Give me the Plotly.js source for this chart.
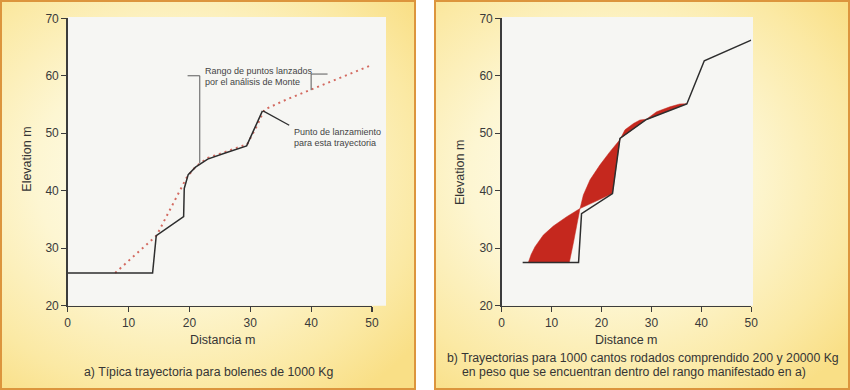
<!DOCTYPE html>
<html>
<head>
<meta charset="utf-8">
<script src="https://cdn.plot.ly/plotly-3.0.1.min.js"></script>
<style>
  html, body { margin: 0; padding: 0; background: #ffffff; }
  #wrap { position: relative; width: 850px; height: 390px; overflow: hidden; }
  .panel { position: absolute; top: 0; height: 386px; width: 412px;
           border: 2px solid #dc953d;
           background: radial-gradient(ellipse 75% 70% at 42% 45%, #fffef6 0%, #fdf6d2 45%, #fbe9a4 80%, #f9df86 100%); }
  #pa { left: 0; }
  #pb { left: 434px; }
  #chart { position: absolute; left: 0; top: 0; width: 850px; height: 390px; }
</style>
</head>
<body>
<div id="wrap">
  <div class="panel" id="pa"></div>
  <div class="panel" id="pb"></div>
  <div id="chart"></div>
</div>
<script>
// ---- Panel a) data ----
const xTicks = [0, 10, 20, 30, 40, 50];
const yTicks = [20, 30, 40, 50, 60, 70];
const leftTrajX = [0, 13.95, 14.55, 19.05, 19.15, 19.8, 21.0, 23.0, 26.0, 29.4, 32.0];
const leftTrajY = [25.7, 25.7, 32.2, 35.5, 40.4, 42.8, 44.1, 45.5, 46.6, 47.8, 53.9];
const leftRangeX = [7.8, 11.0, 14.6, 17.0, 19.5, 21.0, 23.0, 26.0, 29.5, 31.2, 32.3, 36.0, 40.0, 45.0, 50.0];
const leftRangeY = [25.7, 28.8, 32.2, 37.1, 42.2, 44.2, 45.7, 46.8, 48.1, 51.5, 54.1, 55.9, 57.6, 59.8, 61.9];
const leaderX = [32.1, 36.4];
const leaderY = [53.9, 51.4];
const bracketLeftX = [19.7, 21.7, 21.7];
const bracketLeftY = [60.0, 60.0, 44.8];
const bracketRightX = [42.7, 40.0, 40.0];
const bracketRightY = [60.3, 60.3, 57.5];

// ---- Panel b) data ----
const rightTrajX = [4.2, 15.4, 16.0, 22.2, 23.7, 29.0, 37.1, 40.6, 50.0];
const rightTrajY = [27.5, 27.5, 36.0, 39.5, 49.1, 52.4, 55.1, 62.6, 66.2];
const lowLobeX = [5.33, 13.55, 14.35, 15.03, 15.69, 13.03, 10.35, 8.34, 6.68, 5.9, 5.33];
const lowLobeY = [27.5, 27.5, 30.85, 33.74, 36.9, 35.48, 33.86, 32.29, 30.26, 28.9, 27.5];
const upLobeX = [15.7, 16.36, 17.7, 19.7, 21.7, 23.7, 24.7, 26.4, 27.7, 29.0, 31.05, 33.7, 35.7, 37.1, 29.0, 23.7, 22.2, 15.7];
const upLobeY = [36.9, 39.25, 41.9, 44.5, 46.8, 48.9, 50.6, 51.7, 52.3, 52.45, 53.75, 54.6, 55.1, 55.15, 52.4, 49.1, 39.5, 36.9];

// ---- Texts ----
const captionA = 'a) Típica trayectoria para bolenes de 1000 Kg';
const captionB1 = 'b) Trayectorias para 1000 cantos rodados comprendido 200 y 20000 Kg';
const captionB2 = 'en peso que se encuentran dentro del rango manifestado en a)';

const W = 850, H = 390;
const px = v => v / W;
const py = v => (H - v) / H;

const red = '#c5281e';
const ink = '#2e2e2e';
const grey = '#5a5a5a';
const sans = 'Liberation Sans, Arial, sans-serif';

const traces = [
  {x: lowLobeX, y: lowLobeY, xaxis: 'x2', yaxis: 'y2', mode: 'lines', fill: 'toself',
   fillcolor: red, line: {color: red, width: 0.5}, hoverinfo: 'skip'},
  {x: upLobeX, y: upLobeY, xaxis: 'x2', yaxis: 'y2', mode: 'lines', fill: 'toself',
   fillcolor: red, line: {color: red, width: 0.5}, hoverinfo: 'skip'},
  {x: rightTrajX, y: rightTrajY, xaxis: 'x2', yaxis: 'y2', mode: 'lines',
   line: {color: ink, width: 1.5}},
  {x: leftRangeX, y: leftRangeY, mode: 'lines', line: {color: '#d36a60', width: 2, dash: '2px,4px'}},
  {x: leftTrajX, y: leftTrajY, mode: 'lines', line: {color: ink, width: 1.5}},
  {x: leaderX, y: leaderY, mode: 'lines', line: {color: ink, width: 1.3}},
  {x: bracketLeftX, y: bracketLeftY, mode: 'lines', line: {color: grey, width: 1}},
  {x: bracketRightX, y: bracketRightY, mode: 'lines', line: {color: grey, width: 1}}
];

const axisCommon = {
  showgrid: false, zeroline: false, showline: true, linecolor: '#3c3c3c', linewidth: 1.5,
  ticks: 'outside', ticklen: 5, tickwidth: 1.2, tickcolor: '#3c3c3c',
  tickfont: {family: sans, size: 12, color: '#3a3a3a'},
  fixedrange: true
};
const xDomA = [px(67.7), px(372)];
const xDomB = [px(501.7), px(751.2)];
const yDom = [py(305.7), py(18.3)];

function label(text, x, y, size, extra) {
  return Object.assign({text: text, xref: 'paper', yref: 'paper', x: px(x), y: py(y),
    xanchor: 'center', yanchor: 'middle', showarrow: false,
    font: {family: sans, size: size, color: '#353535'}}, extra || {});
}
function note(text, x, y) {
  return {text: text, xref: 'x', yref: 'y', x: x, y: y, xanchor: 'left', yanchor: 'middle',
    showarrow: false, font: {family: sans, size: 9, color: '#444444'}};
}

const layout = {
  width: W, height: H,
  margin: {l: 0, r: 0, t: 0, b: 0},
  paper_bgcolor: 'rgba(0,0,0,0)',
  plot_bgcolor: 'rgba(0,0,0,0)',
  showlegend: false,
  xaxis: Object.assign({}, axisCommon, {domain: xDomA, range: [0, 50], tickvals: xTicks, anchor: 'y'}),
  yaxis: Object.assign({}, axisCommon, {domain: yDom, range: [20, 70], tickvals: yTicks, anchor: 'x'}),
  xaxis2: Object.assign({}, axisCommon, {domain: xDomB, range: [0, 50], tickvals: xTicks, anchor: 'y2'}),
  yaxis2: Object.assign({}, axisCommon, {domain: yDom, range: [20, 70], tickvals: yTicks, anchor: 'x2'}),
  shapes: [
    {type: 'rect', xref: 'paper', yref: 'paper', x0: px(67.7), x1: px(386), y0: py(305.7), y1: py(17),
     fillcolor: '#f6f6f3', line: {width: 0}, layer: 'below'},
    {type: 'rect', xref: 'paper', yref: 'paper', x0: px(501.7), x1: px(753), y0: py(305.7), y1: py(17),
     fillcolor: '#f6f6f3', line: {width: 0}, layer: 'below'}
  ],
  annotations: [
    label('Elevation m', 26.7, 159, 12.5, {textangle: -90}),
    label('Distancia m', 223, 340, 12.5),
    label('Elevation m', 460, 172, 12.5, {textangle: -90}),
    label('Distance m', 626.7, 340, 12.5),
    label(captionA, 208, 372, 12.3),
    label(captionB1, 642.5, 358, 12.3),
    label(captionB2, 634, 371.5, 12.3),
    note('Rango de puntos lanzados', 22.3, 60.9),
    note('por el análisis de Monte', 22.3, 59.0),
    note('Punto de lanzamiento', 36.8, 50.3),
    note('para esta trayectoria', 36.8, 48.3)
  ]
};

Plotly.newPlot('chart', traces, layout, {displayModeBar: false, staticPlot: true});
</script>
</body>
</html>
